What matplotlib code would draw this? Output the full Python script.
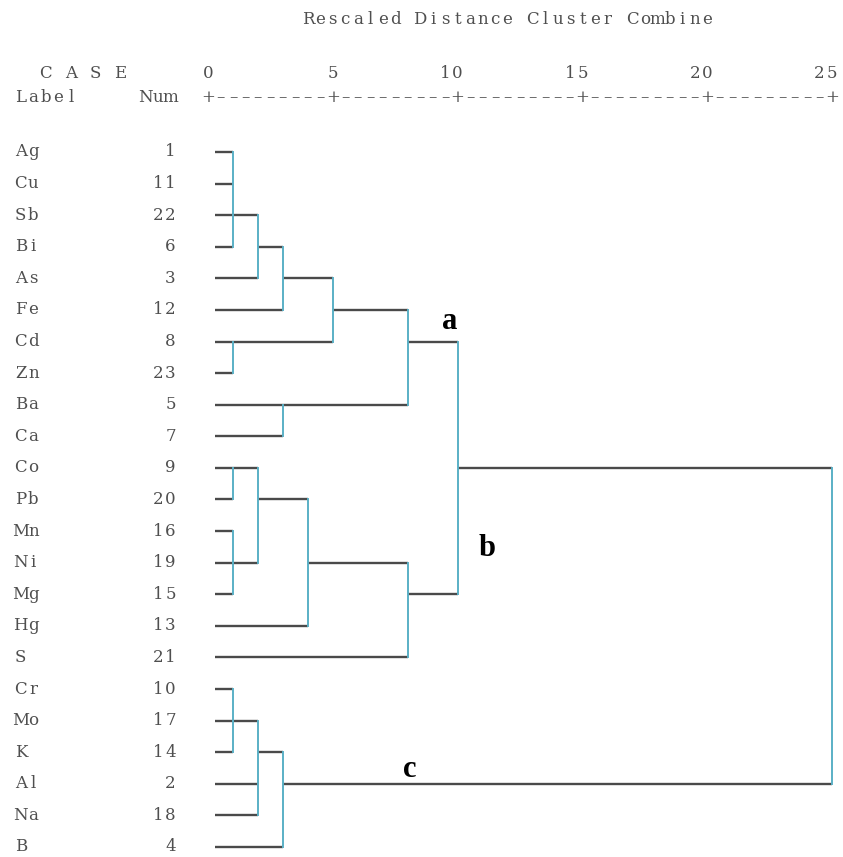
import matplotlib
matplotlib.use("Agg")
import matplotlib.pyplot as plt

# cases in dendrogram order
labels = ["Ag", "Cu", "Sb", "Bi", "As", "Fe", "Cd", "Zn", "Ba", "Ca",
          "Co", "Pb", "Mn", "Ni", "Mg", "Hg", "S",
          "Cr", "Mo", "K", "Al", "Na", "B"]
nums = [1, 11, 22, 6, 3, 12, 8, 23, 5, 7,
        9, 20, 16, 19, 15, 13, 21,
        10, 17, 14, 2, 18, 4]

# merges: child node ids (leaves are 0..22, merges numbered from 23),
# rescaled distance, row of the outgoing line
merge_children = [
    [0, 1, 2, 3], [23, 4], [24, 5], [6, 7], [25, 26], [8, 9], [27, 28],
    [10, 11], [12, 13, 14], [30, 31], [32, 15], [33, 16], [29, 34],
    [17, 18, 19], [36, 20, 21], [37, 22], [35, 38],
]
merge_dist = [1, 2, 3, 1, 5, 3, 8, 1, 1, 2, 4, 8, 10, 1, 2, 3, 25]
merge_row = [2, 3, 4, 6, 5, 8, 6, 10, 13, 11, 13, 14, 10, 18, 19, 20, 15]

scale_ticks = [0, 5, 10, 15, 20, 25]
group_marks = ["a", "b", "c"]
group_x = [9.7, 11.18, 8.09]
group_y = [5.35, 12.54, 19.56]

LEAF_X = 0.3
TXT = "#4f4f4f"
HCOL = "#4a4a4a"
VCOL = "#5ab0c6"

fig = plt.figure(figsize=(8.43, 8.57), dpi=100)
ax = fig.add_axes([0, 0, 1, 1])
ax.set_xlim(-208 / 24.96, (843 - 208) / 24.96)
ax.set_ylim((857 - 152) / 31.59, -152 / 31.59)
ax.axis("off")


def put_chars(col, row, s, size=12):
    # SPSS style output: one character per column, two columns per unit
    for i, ch in enumerate(s):
        if ch != " ":
            ax.text((col + i) * 0.5, row, ch, ha="center", va="center",
                    fontsize=size, color=TXT, family="DejaVu Serif")


put_chars(8, -4.18, "Rescaled Distance Cluster Combine")
put_chars(-13, -2.5, "C A S E")
put_chars(-15, -1.71, "Label")
put_chars(-5, -1.71, "Num")
for t in scale_ticks:
    s = str(t)
    put_chars(2 * t - len(s) + 1, -2.5, s)
ruler = "".join("+" if c % 10 == 0 else "\u2013" for c in range(51))
put_chars(0, -1.71, ruler)

for i, (lab, n) in enumerate(zip(labels, nums)):
    put_chars(-15, i, lab)
    s = str(n)
    put_chars(-3 - len(s) + 1, i, s)

# node positions: x where the outgoing line starts, row it sits on
node_x = [LEAF_X] * len(labels)
node_r = list(range(len(labels)))
for kids, d, r in zip(merge_children, merge_dist, merge_row):
    rows = [node_r[k] for k in kids]
    for k in kids:
        ax.plot([node_x[k], d], [node_r[k], node_r[k]], color=HCOL,
                lw=1.7, solid_capstyle="butt", zorder=2)
    ax.plot([d, d], [min(rows), max(rows)], color=VCOL, lw=1.4,
            solid_capstyle="projecting", zorder=3)
    node_x.append(d)
    node_r.append(r)

for m, x, y in zip(group_marks, group_x, group_y):
    ax.text(x, y, m, ha="center", va="center", fontsize=22,
            fontweight="bold", family="Liberation Serif", color="black")

fig.savefig("out.png", dpi=100, facecolor="white")
